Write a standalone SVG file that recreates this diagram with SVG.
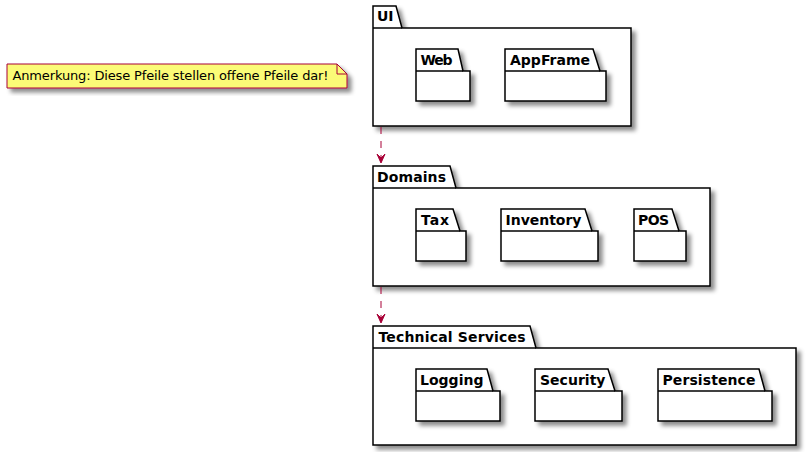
<svg xmlns="http://www.w3.org/2000/svg" width="812" height="452" viewBox="0 0 812 452">
<defs>
<filter id="sh" x="-10%" y="-10%" width="130%" height="140%">
<feGaussianBlur in="SourceAlpha" stdDeviation="2" result="b"/>
<feColorMatrix in="b" type="matrix" values="0 0 0 0 0  0 0 0 0 0  0 0 0 0 0  0 0 0 0.45 0" result="c"/>
<feOffset in="c" dx="4" dy="4" result="o"/>
<feMerge><feMergeNode in="o"/><feMergeNode in="SourceGraphic"/></feMerge>
</filter>
</defs>
<style>
.pk{fill:#FFFFFF;stroke:#000000;stroke-width:1.5;filter:url(#sh)}
.lb{font-family:"DejaVu Sans",sans-serif;font-size:14px;font-weight:bold;fill:#000000}
.note{fill:#FBFB77;stroke:#A80036;stroke-width:1;filter:url(#sh)}
.nt{font-family:"DejaVu Sans",sans-serif;font-size:13px;fill:#000000}
.ln{stroke:#A80036;stroke-width:1;stroke-dasharray:7,7;fill:none}
.ah{stroke:#A80036;stroke-width:1;fill:#A80036}
</style>
<rect width="812" height="452" fill="#FFFFFF"/>
<g id="note">
<path class="note" d="M7,64 L337,64 L347,74 L347,88 L7,88 Z"/>
<path d="M337,64 L337,74 L347,74" fill="none" stroke="#A80036" stroke-width="1"/>
<text class="nt" x="12.5" y="80" textLength="316" lengthAdjust="spacing">Anmerkung: Diese Pfeile stellen offene Pfeile dar!</text>
</g>
<g id="UI">
<path class="pk" d="M373,6 L396,6 L402,28 L631,28 L631,126 L373,126 Z"/>
<line x1="373" y1="28" x2="402" y2="28" stroke="#000" stroke-width="1.5"/>
<text class="lb" x="377" y="21">UI</text>
</g>
<g id="Web">
<path class="pk" d="M416,49 L458,49 L463,71 L470,71 L470,101 L416,101 Z"/>
<line x1="416" y1="71" x2="463" y2="71" stroke="#000" stroke-width="1.5"/>
<text class="lb" x="420.5" y="65" textLength="32" lengthAdjust="spacing">Web</text>
</g>
<g id="AppFrame">
<path class="pk" d="M505,49 L593,49 L600,71 L606,71 L606,101 L505,101 Z"/>
<line x1="505" y1="71" x2="600" y2="71" stroke="#000" stroke-width="1.5"/>
<text class="lb" x="510" y="65" textLength="80" lengthAdjust="spacing">AppFrame</text>
</g>
<g id="Domains">
<path class="pk" d="M373,166 L450,166 L456,188 L710,188 L710,286 L373,286 Z"/>
<line x1="373" y1="188" x2="456" y2="188" stroke="#000" stroke-width="1.5"/>
<text class="lb" x="377" y="182" textLength="69" lengthAdjust="spacing">Domains</text>
</g>
<g id="Tax">
<path class="pk" d="M416,209 L453,209 L460,231 L466,231 L466,261 L416,261 Z"/>
<line x1="416" y1="231" x2="460" y2="231" stroke="#000" stroke-width="1.5"/>
<text class="lb" x="421" y="225" textLength="28" lengthAdjust="spacing">Tax</text>
</g>
<g id="Inventory">
<path class="pk" d="M501,209 L585,209 L592,231 L598,231 L598,261 L501,261 Z"/>
<line x1="501" y1="231" x2="592" y2="231" stroke="#000" stroke-width="1.5"/>
<text class="lb" x="505.5" y="225" textLength="76" lengthAdjust="spacing">Inventory</text>
</g>
<g id="POS">
<path class="pk" d="M634,209 L672,209 L679,231 L686,231 L686,261 L634,261 Z"/>
<line x1="634" y1="231" x2="679" y2="231" stroke="#000" stroke-width="1.5"/>
<text class="lb" x="638" y="225" textLength="31" lengthAdjust="spacing">POS</text>
</g>
<g id="TechnicalServices">
<path class="pk" d="M373,326 L530,326 L536,348 L796,348 L796,445 L373,445 Z"/>
<line x1="373" y1="348" x2="536" y2="348" stroke="#000" stroke-width="1.5"/>
<text class="lb" x="378.5" y="342" textLength="147" lengthAdjust="spacing">Technical Services</text>
</g>
<g id="Logging">
<path class="pk" d="M416,369 L487,369 L493,391 L500,391 L500,421 L416,421 Z"/>
<line x1="416" y1="391" x2="493" y2="391" stroke="#000" stroke-width="1.5"/>
<text class="lb" x="420" y="385" textLength="63.5" lengthAdjust="spacing">Logging</text>
</g>
<g id="Security">
<path class="pk" d="M535,369 L608,369 L615,391 L622,391 L622,421 L535,421 Z"/>
<line x1="535" y1="391" x2="615" y2="391" stroke="#000" stroke-width="1.5"/>
<text class="lb" x="540" y="385" textLength="65.5" lengthAdjust="spacing">Security</text>
</g>
<g id="Persistence">
<path class="pk" d="M658,369 L759,369 L765,391 L772,391 L772,421 L658,421 Z"/>
<line x1="658" y1="391" x2="765" y2="391" stroke="#000" stroke-width="1.5"/>
<text class="lb" x="662.5" y="385" textLength="93" lengthAdjust="spacing">Persistence</text>
</g>
<g id="connectors">
<path class="ln" d="M381,127 L381,162"/>
<path class="ah" d="M381,163 L377,154 L381,158 L385,154 Z"/>
<path class="ln" d="M381,287 L381,322"/>
<path class="ah" d="M381,323 L377,314 L381,318 L385,314 Z"/>
</g>
</svg>
